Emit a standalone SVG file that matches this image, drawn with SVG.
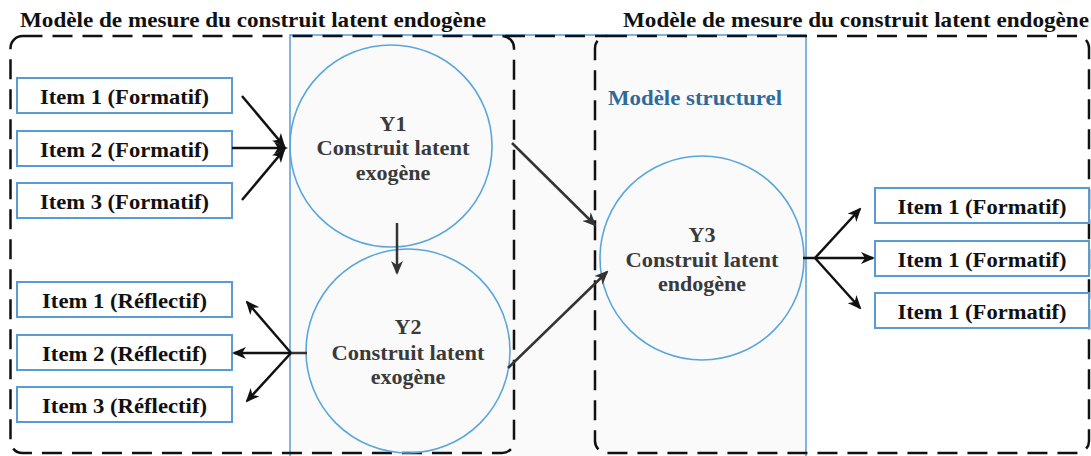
<svg xmlns="http://www.w3.org/2000/svg" width="1091" height="456" viewBox="0 0 1091 456">
<style>
.t{font-family:"Liberation Serif","Times New Roman",serif;font-weight:bold;font-size:22px;text-anchor:middle;fill:#111}
.c{fill:#3a3a3a}
.box{fill:#fff;stroke:#5b9bd5;stroke-width:2}
.circ{fill:none;stroke:#5aa6dc;stroke-width:1.6}
.dash{fill:none;stroke:#111;stroke-width:2.5;stroke-dasharray:20 10}
.a{stroke:#111;stroke-width:2.5;fill:none;marker-end:url(#ah)}
.g{stroke:#333;stroke-width:2.5;fill:none;marker-end:url(#ahg)}
</style>
<defs>
<marker id="ah" viewBox="0 0 14 12" markerWidth="14" markerHeight="12" refX="12" refY="6" orient="auto" markerUnits="userSpaceOnUse"><path d="M0,0 L14,6 L0,12 L4,6 z" fill="#111"/></marker>
<marker id="ahg" viewBox="0 0 14 12" markerWidth="14" markerHeight="12" refX="12" refY="6" orient="auto" markerUnits="userSpaceOnUse"><path d="M0,0 L14,6 L0,12 L4,6 z" fill="#333"/></marker>
</defs>
<rect width="1091" height="456" fill="#fff"/>
<g id="panel">
<rect x="290" y="35" width="516" height="440" fill="#fafafa" stroke="#5b9bd5" stroke-width="1.5"/>
<text x="695" y="105" class="t" style="fill:#2e6a9a;font-size:20px" textLength="174" lengthAdjust="spacingAndGlyphs">Modèle structurel</text>
</g>
<g id="frames">
<rect x="10.5" y="36" width="503.5" height="417" rx="12" class="dash"/>
<rect x="595" y="36" width="494" height="417" rx="12" class="dash"/>
<line x1="505" y1="36" x2="607" y2="36" class="dash"/>
<text x="253" y="27" class="t" textLength="466" lengthAdjust="spacingAndGlyphs">Modèle de mesure du construit latent endogène</text>
<text x="856" y="27" class="t" textLength="466" lengthAdjust="spacingAndGlyphs">Modèle de mesure du construit latent endogène</text>
</g>
<g id="Y1">
<circle cx="391" cy="146" r="101" class="circ"/>
<text x="393" y="131" class="t c">Y1</text>
<text x="393" y="155" class="t c" textLength="153" lengthAdjust="spacingAndGlyphs">Construit latent</text>
<text x="393" y="180" class="t c">exogène</text>
</g>
<g id="Y2">
<circle cx="408" cy="351" r="102" class="circ"/>
<text x="408" y="334" class="t c">Y2</text>
<text x="408" y="360" class="t c" textLength="153" lengthAdjust="spacingAndGlyphs">Construit latent</text>
<text x="408" y="384" class="t c">exogène</text>
</g>
<g id="Y3">
<circle cx="702" cy="258" r="102" class="circ"/>
<text x="702" y="242" class="t c">Y3</text>
<text x="702" y="267" class="t c" textLength="153" lengthAdjust="spacingAndGlyphs">Construit latent</text>
<text x="702" y="291" class="t c">endogène</text>
</g>
<g id="itemF1"><rect x="17" y="78" width="215" height="35" class="box"/><text x="124.5" y="104" class="t" textLength="169" lengthAdjust="spacingAndGlyphs">Item 1 (Formatif)</text></g>
<g id="itemF2"><rect x="17" y="131" width="215" height="35" class="box"/><text x="124.5" y="157" class="t" textLength="169" lengthAdjust="spacingAndGlyphs">Item 2 (Formatif)</text></g>
<g id="itemF3"><rect x="17" y="183" width="215" height="35" class="box"/><text x="124.5" y="209" class="t" textLength="169" lengthAdjust="spacingAndGlyphs">Item 3 (Formatif)</text></g>
<g id="itemR1"><rect x="17" y="282" width="215" height="35" class="box"/><text x="124.5" y="308" class="t" textLength="165" lengthAdjust="spacingAndGlyphs">Item 1 (Réflectif)</text></g>
<g id="itemR2"><rect x="17" y="335" width="215" height="35" class="box"/><text x="124.5" y="361" class="t" textLength="165" lengthAdjust="spacingAndGlyphs">Item 2 (Réflectif)</text></g>
<g id="itemR3"><rect x="17" y="387" width="215" height="35" class="box"/><text x="124.5" y="413" class="t" textLength="165" lengthAdjust="spacingAndGlyphs">Item 3 (Réflectif)</text></g>
<g id="itemO1"><rect x="875" y="188" width="214" height="35" class="box"/><text x="982" y="214" class="t" textLength="169" lengthAdjust="spacingAndGlyphs">Item 1 (Formatif)</text></g>
<g id="itemO2"><rect x="875" y="241" width="214" height="35" class="box"/><text x="982" y="267" class="t" textLength="169" lengthAdjust="spacingAndGlyphs">Item 1 (Formatif)</text></g>
<g id="itemO3"><rect x="875" y="293" width="214" height="35" class="box"/><text x="982" y="319" class="t" textLength="169" lengthAdjust="spacingAndGlyphs">Item 1 (Formatif)</text></g>
<g id="connectors">
<line x1="242" y1="96" x2="284" y2="146" class="a"/>
<line x1="232" y1="148" x2="286" y2="148" class="a"/>
<line x1="242" y1="200" x2="284" y2="150" class="a"/>
<line x1="397" y1="223" x2="397" y2="273" class="g"/>
<line x1="307" y1="353" x2="291" y2="353" stroke="#333" stroke-width="2.5"/>
<line x1="291" y1="353" x2="247" y2="302" class="a"/>
<line x1="291" y1="353" x2="234" y2="353" class="a"/>
<line x1="291" y1="353" x2="247" y2="401" class="a"/>
<line x1="512" y1="143" x2="595" y2="225" class="g"/>
<line x1="508" y1="368" x2="607" y2="272" class="g"/>
<line x1="803" y1="258" x2="815" y2="258" stroke="#111" stroke-width="2.5"/>
<line x1="815" y1="258" x2="860" y2="209" class="a"/>
<line x1="815" y1="258" x2="873" y2="258" class="a"/>
<line x1="815" y1="258" x2="860" y2="308" class="a"/>
</g>
</svg>
